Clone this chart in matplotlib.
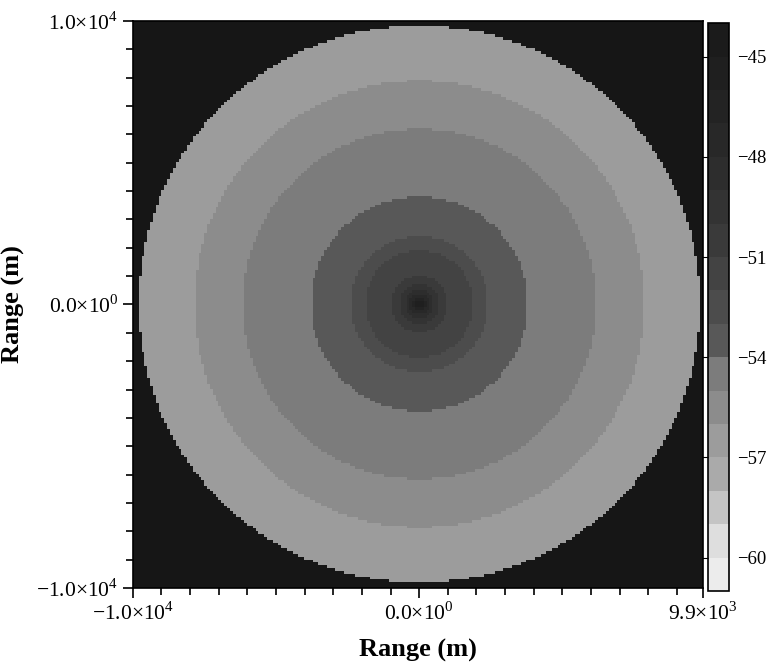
import numpy as np
import matplotlib
matplotlib.use("Agg")
import matplotlib.pyplot as plt
from matplotlib.colors import ListedColormap, BoundaryNorm
from matplotlib.ticker import FixedLocator, MultipleLocator

plt.rcParams['font.family'] = ['Liberation Serif', 'DejaVu Serif']
plt.rcParams['mathtext.fontset'] = 'custom'
plt.rcParams['mathtext.rm'] = 'Liberation Serif'

# ring outer radii (m) and received power level inside each ring (dB)
ring_radius_m = [150, 250, 350, 500, 700, 1000, 1900, 2400, 3800, 6200, 7900, 9850]
ring_level_db = [-45.5, -46.5, -47.5, -48.5, -49.5, -50.5, -51.5, -52.5, -53.5, -54.5, -55.5, -56.5]

# colour bar bands (dB) and the grey of each band, lowest first
band_edges = list(range(-61, -43))
band_grays = ['#ececec', '#dedede', '#c4c4c4', '#aaaaaa', '#9c9c9c', '#8c8c8c',
              '#7c7c7c', '#585858', '#4c4c4c', '#434343', '#3a3a3a', '#333333',
              '#2d2d2d', '#282828', '#232323', '#1f1f1f', '#1b1b1b']

x_ticks = [-1.0e4, 0.0, 9.9e3]
x_ticklabels = ['\u22121.0×10$^4$', '0.0×10$^0$', '9.9×10$^3$']
y_ticks = [-1.0e4, 0.0, 1.0e4]
y_ticklabels = ['\u22121.0×10$^4$', '0.0×10$^0$', '1.0×10$^4$']
cbar_ticks = [-60, -57, -54, -51, -48, -45]

xmin, xmax, ymin, ymax = -1.0e4, 9.9e3, -1.0e4, 1.0e4
n = 200
xs = np.linspace(xmin, xmax, n)
ys = np.linspace(ymin, ymax, n)
X, Y = np.meshgrid(xs, ys)
R = np.hypot(X, Y)
idx = np.searchsorted(ring_radius_m, R)
levels = np.array(ring_level_db)
field = np.where(idx < len(levels), levels[np.clip(idx, 0, len(levels) - 1)], np.nan)
field = np.ma.masked_invalid(field)

cmap = ListedColormap(band_grays)
cmap.set_bad('#161616')
norm = BoundaryNorm(band_edges, cmap.N)

fig = plt.figure(figsize=(7.68, 6.64), dpi=100)
ax = fig.add_axes([0.173, 0.1145, 0.742, 0.854])
im = ax.imshow(field, cmap=cmap, norm=norm, origin='lower',
               extent=[xmin, xmax, ymin, ymax], aspect='auto', interpolation='nearest')

ax.xaxis.set_major_locator(FixedLocator(x_ticks))
ax.set_xticklabels(x_ticklabels)
ax.yaxis.set_major_locator(FixedLocator(y_ticks))
ax.set_yticklabels(y_ticklabels)
ax.xaxis.set_minor_locator(MultipleLocator(1000))
ax.yaxis.set_minor_locator(MultipleLocator(1000))
ax.tick_params(which='both', direction='out', labelsize=15.5, width=1.2)
ax.tick_params(which='major', length=7)
ax.tick_params(which='minor', length=5)
for s in ax.spines.values():
    s.set_linewidth(1.2)

ax.set_xlabel('Range (m)', fontsize=19, fontweight='bold', labelpad=10)
ax.set_ylabel('Range (m)', fontsize=19, fontweight='bold', labelpad=8)

cax = fig.add_axes([0.922, 0.110, 0.027, 0.855])
cb = fig.colorbar(im, cax=cax, ticks=cbar_ticks)
cb.outline.set_linewidth(1.2)
cb.ax.minorticks_off()
cb.ax.set_yticklabels(['\u2212%d' % abs(t) for t in cbar_ticks])
cb.ax.tick_params(left=True, right=False, labelleft=False, labelright=True,
                  direction='out', length=4, labelsize=13.5, pad=2)

fig.savefig('out.png', dpi=100)
